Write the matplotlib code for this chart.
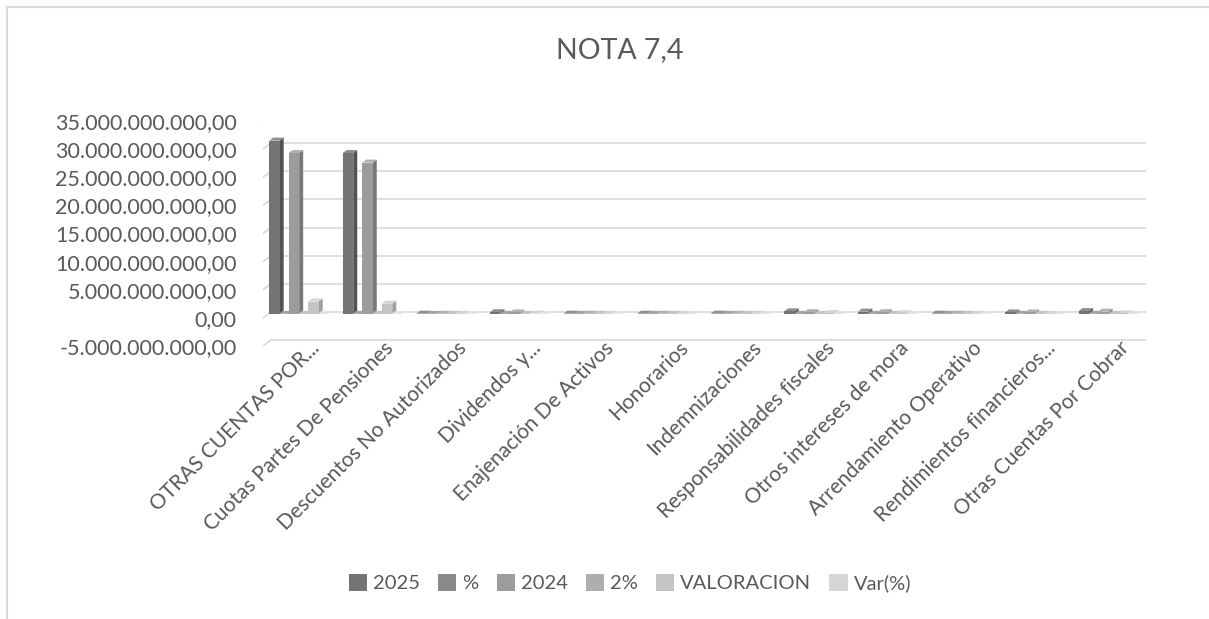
"""NOTA 7,4 — Excel-style 3D clustered column chart, redrawn with matplotlib."""
import matplotlib

matplotlib.use("Agg")
import matplotlib.pyplot as plt
from matplotlib.lines import Line2D
from matplotlib.patches import Polygon, Rectangle
from matplotlib.ticker import FuncFormatter

plt.rcParams["font.family"] = ["Lato", "DejaVu Sans"]

categories = [
    "OTRAS CUENTAS POR...",
    "Cuotas Partes De Pensiones",
    "Descuentos No Autorizados",
    "Dividendos y...",
    "Enajenación De Activos",
    "Honorarios",
    "Indemnizaciones",
    "Responsabilidades fiscales",
    "Otros intereses de mora",
    "Arrendamiento Operativo",
    "Rendimientos financieros...",
    "Otras Cuentas Por Cobrar",
]
series_names = ["2025", "%", "2024", "2%", "VALORACION", "Var(%)"]

v2025 = [30.8e9, 28.6e9, 0.03e9, 0.30e9, 0.03e9, 0.03e9, 0.03e9, 0.45e9,
         0.40e9, 0.03e9, 0.25e9, 0.50e9]
pct_2025 = [0.49, 0.46, 0.0, 0.01, 0.0, 0.0, 0.0, 0.01, 0.01, 0.0, 0.0, 0.01]
v2024 = [28.6e9, 26.9e9, 0.02e9, 0.25e9, 0.02e9, 0.02e9, 0.02e9, 0.30e9,
         0.30e9, 0.02e9, 0.25e9, 0.40e9]
pct_2024 = [0.50, 0.47, 0.0, 0.01, 0.0, 0.0, 0.0, 0.01, 0.01, 0.0, 0.01, 0.01]
valoracion = [2.2e9, 1.8e9, 0.01e9, 0.05e9, 0.01e9, 0.01e9, 0.01e9, 0.15e9,
              0.10e9, 0.01e9, 0.0, 0.10e9]
var_pct = [0.08, 0.06, 0.3, 0.15, 0.2, 0.1, 0.1, 0.5, 0.3, 0.1, 0.0, 0.3]

series = [v2025, pct_2025, v2024, pct_2024, valoracion, var_pct]
FRONT = ["#747474", "#8a8a8a", "#9c9c9c", "#aeaeae", "#c4c4c4", "#d6d6d6"]
SIDE = ["#525252", "#666666", "#787878", "#8a8a8a", "#a0a0a0", "#b4b4b4"]
TOP = ["#8e8e8e", "#a2a2a2", "#b2b2b2", "#c2c2c2", "#d4d4d4", "#e2e2e2"]
TEXT = "#595959"

W, H = 1209, 619
fig = plt.figure(figsize=(W / 100, H / 100), dpi=100)

# plot area in pixels (front plane): x 263..1146, y 121..346 (35e9..-5e9)
ax_l, ax_r, ax_t, ax_b = 263, 1146, 121, 346
ax = fig.add_axes([ax_l / W, 1 - ax_b / H, (ax_r - ax_l) / W, (ax_b - ax_t) / H])
ax.set_xlim(-0.5, len(categories) - 0.5)
ax.set_ylim(-5e9, 35e9)
for s in ax.spines.values():
    s.set_visible(False)

# pixel -> data scale
px_x = (len(categories)) / (ax_r - ax_l)
px_y = 40e9 / (ax_b - ax_t)

# back wall depth (front to back), in pixels
WALL_DX, WALL_DY = 8, 6
ticks = [-5e9 + 5e9 * i for i in range(9)]
for t in ticks:
    x0, x1 = -0.5, len(categories) - 0.5
    ax.plot([x0 + WALL_DX * px_x, x1 + WALL_DX * px_x], [t + WALL_DY * px_y] * 2,
            color="#d9d9d9", lw=1.2, zorder=1)
    ax.plot([x0, x0 + WALL_DX * px_x], [t, t + WALL_DY * px_y],
            color="#d9d9d9", lw=1.2, zorder=1)

# bars: front face offset into the floor, plus side and top faces
BAR_OFF_X, BAR_OFF_Y = -1, 4
BAR_DX, BAR_DY = 4, 3
slot = 9.75 * px_x
bw = 10.5 * px_x
for si, vals in enumerate(series):
    for ci, v in enumerate(vals):
        x = ci + (si - 2.5) * slot - bw / 2 + BAR_OFF_X * px_x
        y0 = BAR_OFF_Y * px_y
        y1 = y0 + v
        ddx, ddy = BAR_DX * px_x, BAR_DY * px_y
        ax.add_patch(Polygon([(x + bw, y0), (x + bw + ddx, y0 + ddy),
                              (x + bw + ddx, y1 + ddy), (x + bw, y1)],
                             closed=True, fc=SIDE[si], ec="none", zorder=3))
        ax.add_patch(Polygon([(x, y1), (x + ddx, y1 + ddy),
                              (x + bw + ddx, y1 + ddy), (x + bw, y1)],
                             closed=True, fc=TOP[si], ec="none", zorder=3))
    ax.bar([ci + (si - 2.5) * slot + BAR_OFF_X * px_x for ci in range(len(vals))],
           vals, width=bw, bottom=BAR_OFF_Y * px_y, color=FRONT[si], zorder=4)


def fmt(v, _pos):
    s = f"{v:,.2f}"
    return s.replace(",", "X").replace(".", ",").replace("X", ".")


ax.set_yticks(ticks)
ax.yaxis.set_major_formatter(FuncFormatter(fmt))
ax.tick_params(axis="y", length=0, pad=19, labelsize=15.5, labelcolor=TEXT)
ax.set_xticks(range(len(categories)))
ax.set_xticklabels([])
ax.tick_params(axis="x", length=0)

for ci, name in enumerate(categories):
    ax.annotate(name, xy=(ci + 10 * px_x, -5e9), xytext=(0, 6),
                textcoords="offset points", rotation=45, rotation_mode="anchor",
                ha="right", va="top", fontsize=15, color=TEXT)

fig.text(620 / W, 1 - 50 / H, "NOTA 7,4", ha="center", va="center",
         fontsize=20.5, color=TEXT)

handles = [Rectangle((0, 0), 1, 1, fc=c, ec="none") for c in FRONT]
fig.legend(handles, series_names, loc="center", bbox_to_anchor=(630 / W, 1 - 583 / H),
           ncol=6, frameon=False, fontsize=14.5, labelcolor=TEXT,
           handlelength=0.9, handleheight=0.9, handletextpad=0.3, columnspacing=0.9)

# chart border (only top and left edges are inside the crop)
fig.add_artist(Line2D([7 / W, 7 / W], [0, 1 - 7 / H], transform=fig.transFigure,
                      color="#d9d9d9", lw=1.5))
fig.add_artist(Line2D([7 / W, 1], [1 - 7 / H, 1 - 7 / H], transform=fig.transFigure,
                      color="#d9d9d9", lw=1.5))

fig.savefig("out.png", dpi=100)
